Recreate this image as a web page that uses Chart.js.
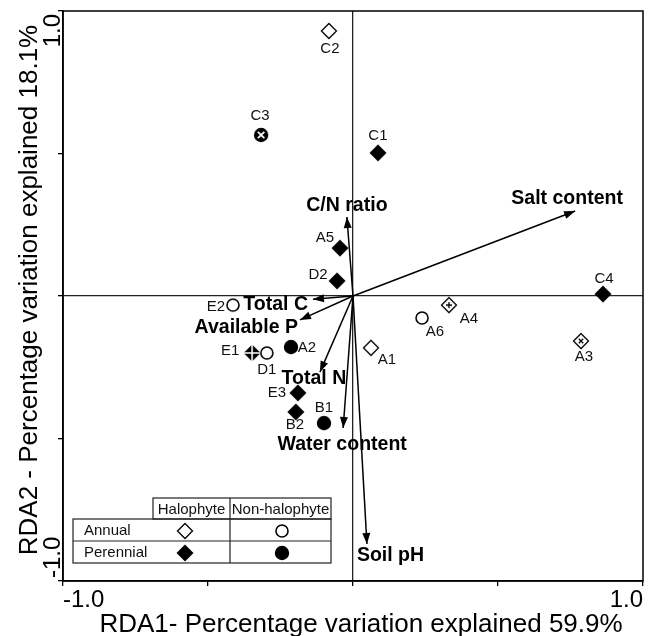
<!DOCTYPE html>
<html>
<head>
<meta charset="utf-8">
<script src="https://cdn.jsdelivr.net/npm/chart.js@4/dist/chart.umd.min.js"></script>
<style>
    html, body { margin: 0; padding: 0; background: #fff; overflow: hidden; }
    #wrap { width: 648px; height: 636px; }
    #rda { display: block; }
</style>
</head>
<body>
<div id="wrap"><canvas id="rda" width="648" height="636"></canvas></div>
<script>
// site scores (RDA1, RDA2)
const siteNames = ['C2', 'C3', 'C1', 'C4', 'A4', 'A6', 'A3', 'A1', 'A5', 'D2', 'E2', 'E1', 'D1', 'A2', 'E3', 'B2', 'B1'];
const siteX = [-0.083, -0.317, 0.086, 0.862, 0.331, 0.238, 0.786, 0.062, -0.045, -0.055, -0.414, -0.348, -0.297, -0.214, -0.190, -0.197, -0.100];
const siteY = [0.930, 0.565, 0.502, 0.007, -0.032, -0.077, -0.158, -0.182, 0.168, 0.053, -0.032, -0.200, -0.200, -0.179, -0.340, -0.407, -0.446];
const siteSymbols = ['diamondOpen', 'circleCross', 'diamondFilled', 'diamondFilled', 'diamondPlus', 'circleOpen', 'diamondX', 'diamondOpen',
    'diamondFilled', 'diamondFilled', 'circleOpen', 'diamondCross', 'circleOpen', 'circleFilled', 'diamondFilled', 'diamondFilled', 'circleFilled'];

// environmental variables (arrow tips)
const varNames = ['Salt content', 'C/N ratio', 'Total C', 'Available P', 'Total N', 'Water content', 'Soil pH'];
const varX = [0.766, -0.021, -0.138, -0.183, -0.114, -0.034, 0.048];
const varY = [0.298, 0.277, -0.011, -0.084, -0.267, -0.463, -0.870];

// axes
const axisMin = -1;
const axisMax = 1;
const tickLabelsX = ['-1.0', '1.0'];
const tickLabelsY = ['-1.0', '1.0'];
const titleX = 'RDA1- Percentage variation explained 59.9%';
const titleY = 'RDA2 - Percentage variation explained 18.1%';

// legend table
const legendCols = ['Halophyte', 'Non-halophyte'];
const legendRows = ['Annual', 'Perennial'];
const legendSymbols = [['diamondOpen', 'circleOpen'], ['diamondFilled', 'circleFilled']];

// label placement (pixel offsets from the mark)
const siteLabelOffset = {
    C2: [1, 18], C3: [-1, -19], C1: [0, -17], C4: [1, -15], A4: [20, 14], A6: [13, 14], A3: [3, 16],
    A1: [16, 12], A5: [-15, -10], D2: [-19, -6], E2: [-17, 2], E1: [-22, -2], D1: [0, 17], A2: [16, 1],
    E3: [-21, 0], B2: [-1, 13], B1: [0, -15]
};
const varLabelPos = {
    'Salt content': [-8, -12, 'center'],
    'C/N ratio': [0, -11, 'center'],
    'Total C': [-5, 5, 'right'],
    'Available P': [-2, 8, 'right'],
    'Total N': [-6, 7, 'center'],
    'Water content': [-1, 17, 'center'],
    'Soil pH': [-10, 12, 'left']
};

const FONT = '"Liberation Sans", Arial, sans-serif';

// small canvases used as point styles
function makeSymbol(type) {
    const c = document.createElement('canvas');
    c.width = 22;
    c.height = 22;
    const g = c.getContext('2d');
    const m = 11;
    g.lineWidth = 1.3;
    g.strokeStyle = '#000';

    const diamond = (r) => {
        g.beginPath();
        g.moveTo(m, m - r);
        g.lineTo(m + r, m);
        g.lineTo(m, m + r);
        g.lineTo(m - r, m);
        g.closePath();
    };

    if (type.startsWith('diamond')) {
        if (type === 'diamondFilled' || type === 'diamondCross') {
            diamond(8.5);
            g.fillStyle = '#000';
            g.fill();
            if (type === 'diamondCross') {
                g.strokeStyle = '#fff';
                g.lineWidth = 1.6;
                g.beginPath();
                g.moveTo(m - 9, m); g.lineTo(m + 9, m);
                g.moveTo(m, m - 9); g.lineTo(m, m + 9);
                g.stroke();
            }
        } else {
            diamond(7.5);
            g.fillStyle = '#fff';
            g.fill();
            g.stroke();
            g.beginPath();
            if (type === 'diamondPlus') {
                g.moveTo(m - 3, m); g.lineTo(m + 3, m);
                g.moveTo(m, m - 3); g.lineTo(m, m + 3);
            } else if (type === 'diamondX') {
                g.moveTo(m - 2.2, m - 2.2); g.lineTo(m + 2.2, m + 2.2);
                g.moveTo(m + 2.2, m - 2.2); g.lineTo(m - 2.2, m + 2.2);
            }
            g.stroke();
        }
    } else {
        if (type === 'circleOpen') {
            g.lineWidth = 1.6;
            g.beginPath();
            g.arc(m, m, 6, 0, Math.PI * 2);
            g.fillStyle = '#fff';
            g.fill();
            g.stroke();
        } else {
            g.beginPath();
            g.arc(m, m, 7.2, 0, Math.PI * 2);
            g.fillStyle = '#000';
            g.fill();
            if (type === 'circleCross') {
                g.strokeStyle = '#fff';
                g.lineWidth = 1.8;
                g.beginPath();
                g.moveTo(m - 3.2, m - 3.2); g.lineTo(m + 3.2, m + 3.2);
                g.moveTo(m + 3.2, m - 3.2); g.lineTo(m - 3.2, m + 3.2);
                g.stroke();
            }
        }
    }
    return c;
}

const symbolCache = {};
function symbol(type) {
    if (!symbolCache[type]) symbolCache[type] = makeSymbol(type);
    return symbolCache[type];
}

// site dataset
const siteData = siteNames.map((n, i) => ({ x: siteX[i], y: siteY[i] }));

// one line dataset per arrow (origin -> tip)
const arrowSets = varNames.map((n, i) => ({
    label: n,
    data: [{ x: 0, y: 0 }, { x: varX[i], y: varY[i] }],
    showLine: true,
    borderColor: '#000',
    borderWidth: 1.5,
    pointRadius: 0,
    order: 1
}));

const decorPlugin = {
    id: 'rdaDecor',
    afterDraw(chart) {
        const ctx = chart.ctx;
        const area = chart.chartArea;
        const xs = chart.scales.x;
        const ys = chart.scales.y;

        ctx.save();

        // frame (top + right, left/bottom come from scale borders)
        ctx.strokeStyle = '#000';
        ctx.lineWidth = 1.5;
        ctx.strokeRect(area.left, area.top, area.right - area.left, area.bottom - area.top);

        // arrow heads and labels
        const arrowMeta = varNames.map((n, i) => chart.getDatasetMeta(i + 1));
        arrowMeta.forEach((meta, i) => {
            const p0 = meta.data[0];
            const p1 = meta.data[1];
            const ang = Math.atan2(p1.y - p0.y, p1.x - p0.x);
            const len = 11;
            const hw = 4;
            ctx.fillStyle = '#000';
            ctx.beginPath();
            ctx.moveTo(p1.x, p1.y);
            ctx.lineTo(p1.x - len * Math.cos(ang) + hw * Math.sin(ang), p1.y - len * Math.sin(ang) - hw * Math.cos(ang));
            ctx.lineTo(p1.x - len * Math.cos(ang) - hw * Math.sin(ang), p1.y - len * Math.sin(ang) + hw * Math.cos(ang));
            ctx.closePath();
            ctx.fill();

            const pos = varLabelPos[varNames[i]];
            ctx.font = 'bold 19.5px ' + FONT;
            ctx.textAlign = pos[2];
            ctx.textBaseline = 'middle';
            ctx.fillText(varNames[i], p1.x + pos[0], p1.y + pos[1]);
        });

        // site labels
        const siteMeta = chart.getDatasetMeta(0);
        ctx.font = '15px ' + FONT;
        ctx.textAlign = 'center';
        ctx.textBaseline = 'middle';
        ctx.fillStyle = '#111';
        siteMeta.data.forEach((pt, i) => {
            const off = siteLabelOffset[siteNames[i]];
            ctx.fillText(siteNames[i], pt.x + off[0], pt.y + off[1]);
        });

        // tick labels
        ctx.fillStyle = '#000';
        ctx.font = '24px ' + FONT;
        ctx.textBaseline = 'alphabetic';
        ctx.textAlign = 'left';
        ctx.fillText(tickLabelsX[0], xs.getPixelForValue(axisMin), 607);
        ctx.textAlign = 'right';
        ctx.fillText(tickLabelsX[1], xs.getPixelForValue(axisMax), 607);

        ctx.save();
        ctx.translate(60, ys.getPixelForValue(axisMax) + 3);
        ctx.rotate(-Math.PI / 2);
        ctx.textAlign = 'right';
        ctx.fillText(tickLabelsY[1], 0, 0);
        ctx.restore();
        ctx.save();
        ctx.translate(60, ys.getPixelForValue(axisMin) - 3);
        ctx.rotate(-Math.PI / 2);
        ctx.textAlign = 'left';
        ctx.fillText(tickLabelsY[0], 0, 0);
        ctx.restore();

        // axis titles
        ctx.font = '26px ' + FONT;
        ctx.textAlign = 'center';
        ctx.fillText(titleX, 361, 632);
        ctx.save();
        ctx.translate(37, 290);
        ctx.rotate(-Math.PI / 2);
        ctx.fillText(titleY, 0, 0);
        ctx.restore();

        // legend table
        const tx = [73, 153, 230, 331];
        const ty = [498, 519, 541, 563];
        ctx.strokeStyle = '#222';
        ctx.lineWidth = 1.2;
        ctx.fillStyle = '#fff';
        ctx.fillRect(tx[0], ty[1], tx[3] - tx[0], ty[3] - ty[1]);
        ctx.fillRect(tx[1], ty[0], tx[3] - tx[1], ty[1] - ty[0]);
        ctx.strokeRect(tx[0], ty[1], tx[3] - tx[0], ty[3] - ty[1]);
        ctx.strokeRect(tx[1], ty[0], tx[3] - tx[1], ty[1] - ty[0]);
        ctx.beginPath();
        ctx.moveTo(tx[0], ty[2]); ctx.lineTo(tx[3], ty[2]);
        ctx.moveTo(tx[2], ty[0]); ctx.lineTo(tx[2], ty[3]);
        ctx.stroke();

        ctx.fillStyle = '#111';
        ctx.font = '15px ' + FONT;
        ctx.textBaseline = 'middle';
        ctx.textAlign = 'center';
        legendCols.forEach((c, j) => {
            ctx.fillText(c, (tx[j + 1] + tx[j + 2]) / 2, (ty[0] + ty[1]) / 2 + 1);
        });
        ctx.textAlign = 'left';
        legendRows.forEach((r, i) => {
            const cy = (ty[i + 1] + ty[i + 2]) / 2 + 1;
            ctx.fillText(r, 84, cy);
            legendSymbols[i].forEach((s, j) => {
                const img = symbol(s);
                const cx = j === 0 ? 185 : 282;
                ctx.drawImage(img, cx - img.width / 2, cy - img.height / 2);
            });
        });

        ctx.restore();
    }
};

const zeroLine = (ctx) => (ctx.tick && ctx.tick.value === 0 ? '#222' : 'rgba(0,0,0,0)');

new Chart(document.getElementById('rda'), {
    type: 'scatter',
    data: {
        datasets: [{
            label: 'Sites',
            data: siteData,
            pointStyle: siteSymbols.map(symbol),
            pointRadius: 8,
            order: 0
        }].concat(arrowSets)
    },
    options: {
        responsive: false,
        animation: false,
        events: [],
        // big point radius would otherwise push the right edge in
        layout: { autoPadding: false, padding: { top: 11, right: 5, left: 0, bottom: 0 } },
        plugins: {
            legend: { display: false },
            tooltip: { enabled: false }
        },
        scales: {
            x: {
                type: 'linear',
                min: axisMin,
                max: axisMax,
                ticks: { stepSize: 0.5, display: false },
                grid: { color: zeroLine, lineWidth: 1.3, drawTicks: true, tickLength: 5, tickColor: '#000' },
                border: { color: '#000', width: 1.6 },
                afterFit(scale) { scale.height = 55; }
            },
            y: {
                type: 'linear',
                min: axisMin,
                max: axisMax,
                ticks: { stepSize: 0.5, display: false },
                grid: { color: zeroLine, lineWidth: 1.3, drawTicks: true, tickLength: 5, tickColor: '#000' },
                border: { color: '#000', width: 1.6 },
                afterFit(scale) { scale.width = 63; }
            }
        }
    },
    plugins: [decorPlugin]
});
</script>
</body>
</html>
